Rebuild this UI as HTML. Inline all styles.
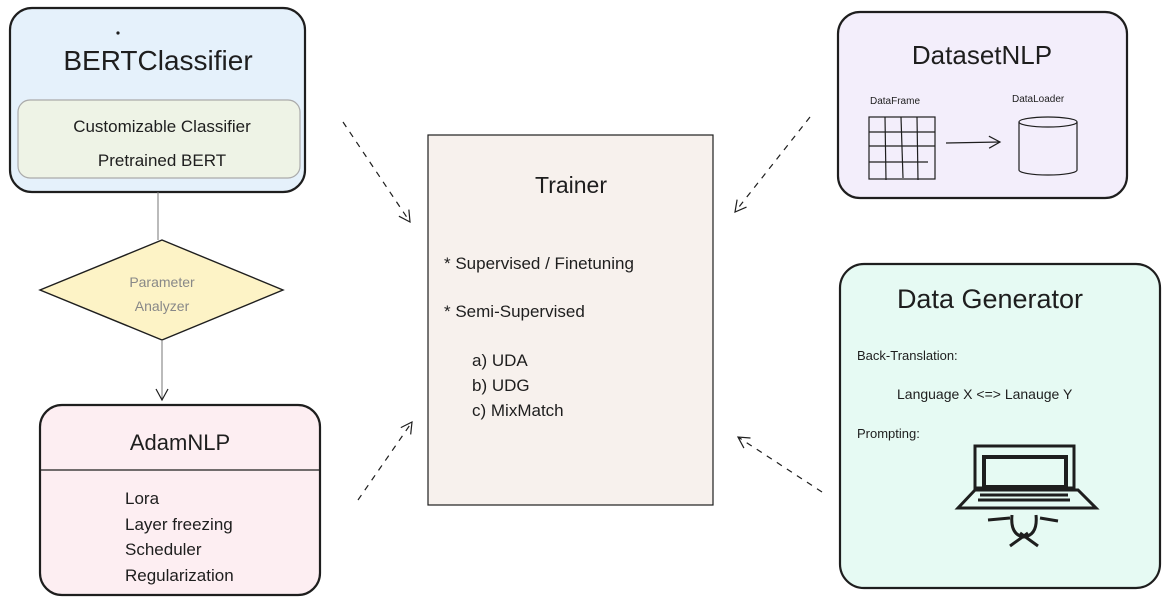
<!DOCTYPE html>
<html><head><meta charset="utf-8"><style>
html,body{margin:0;padding:0;background:#fff;}
svg{display:block;}
text{font-family:"Liberation Sans",sans-serif;fill:#1e1e1e;}
</style></head><body>
<svg width="1169" height="606" viewBox="0 0 1169 606" xmlns="http://www.w3.org/2000/svg">
<defs>
<marker id="ah" markerWidth="14" markerHeight="14" refX="12" refY="7" orient="auto" markerUnits="userSpaceOnUse">
<path d="M1,1 L12,7 L1,13" fill="none" stroke="#1e1e1e" stroke-width="1.2"/>
</marker>
</defs>
<g stroke="#1e1e1e" stroke-width="2.2">
<!-- BERTClassifier -->
<rect x="10" y="8" width="295" height="184" rx="22" fill="#e5f1fb"/>
<rect x="18" y="100" width="282" height="78" rx="12" fill="#eef3e6" stroke="#aaa" stroke-width="1.2"/>
<!-- diamond -->
<line x1="158" y1="192" x2="158" y2="240" stroke-width="1" stroke="#777"/>
<path d="M162,240 L283,290 L162,340 L40,290 Z" fill="#fdf3c6" stroke-width="1.4"/>
<line x1="162" y1="340" x2="162" y2="400" stroke-width="1" stroke="#777" marker-end="url(#ah)"/>
<!-- AdamNLP -->
<rect x="40" y="405" width="280" height="190" rx="22" fill="#fdeef2"/>
<line x1="40" y1="470" x2="320" y2="470" stroke-width="1.2"/>
<!-- Trainer -->
<rect x="428" y="135" width="285" height="370" fill="#f7f1ed" stroke-width="1.2"/>
<!-- DatasetNLP -->
<rect x="838" y="12" width="289" height="186" rx="22" fill="#f3eefb"/>
<!-- Data Generator -->
<rect x="840" y="264" width="320" height="324" rx="24" fill="#e6faf3"/>
</g>
<g stroke="#1e1e1e" stroke-width="1.2" fill="none">
<!-- grid -->
<rect x="869" y="117" width="66" height="62"/>
<line x1="869" y1="132" x2="935" y2="132"/><line x1="869" y1="146" x2="935" y2="146"/><line x1="869" y1="162" x2="928" y2="162"/>
<line x1="885" y1="117" x2="886" y2="180"/><line x1="901" y1="117" x2="903" y2="178"/><line x1="917" y1="117" x2="918" y2="180"/>
<!-- arrow -->
<line x1="946" y1="143" x2="1000" y2="142" marker-end="url(#ah)"/>
<!-- cylinder -->
<ellipse cx="1048" cy="122" rx="29" ry="5"/>
<path d="M1019,122 L1019,170 A29,5 0 0 0 1077,170 L1077,122"/>
<!-- dashed arrows -->
<g stroke-dasharray="6,6">
<line x1="343" y1="122" x2="410" y2="222" marker-end="url(#ah)"/>
<line x1="810" y1="117" x2="735" y2="212" marker-end="url(#ah)"/>
<line x1="358" y1="500" x2="412" y2="422" marker-end="url(#ah)"/>
<line x1="822" y1="492" x2="738" y2="437" marker-end="url(#ah)"/>
</g>
<!-- laptop -->
<g stroke-width="3">
<rect x="975" y="446" width="99" height="42"/>
<rect x="984" y="457" width="82" height="30" stroke-width="4"/>
<path d="M975,490 L958,508 L1096,508 L1078,490 Z"/>
<line x1="980" y1="495" x2="1068" y2="495"/><line x1="978" y1="500" x2="1070" y2="500"/>
<path d="M988,520 L1010,518 M1040,518 L1058,521 M1012,515 Q1010,535 1024,537 Q1038,535 1036,515 M1010,546 L1028,533 M1038,546 L1020,533"/>
</g>
</g>
<!-- text -->
<circle cx="118" cy="33" r="1.6" fill="#1e1e1e"/>
<text x="158" y="70" font-size="28" text-anchor="middle">BERTClassifier</text>
<text x="162" y="132" font-size="17" text-anchor="middle">Customizable Classifier</text>
<text x="162" y="166" font-size="17" text-anchor="middle">Pretrained BERT</text>
<text x="162" y="287" font-size="14" text-anchor="middle" style="fill:#888">Parameter</text>
<text x="162" y="311" font-size="14" text-anchor="middle" style="fill:#888">Analyzer</text>
<text x="180" y="450" font-size="22" text-anchor="middle">AdamNLP</text>
<text x="125" y="504" font-size="17">Lora</text>
<text x="125" y="530" font-size="17">Layer freezing</text>
<text x="125" y="555" font-size="17">Scheduler</text>
<text x="125" y="581" font-size="17">Regularization</text>
<text x="571" y="193" font-size="23" text-anchor="middle">Trainer</text>
<text x="444" y="269" font-size="17">* Supervised / Finetuning</text>
<text x="444" y="317" font-size="17">* Semi-Supervised</text>
<text x="472" y="366" font-size="17">a) UDA</text>
<text x="472" y="391" font-size="17">b) UDG</text>
<text x="472" y="416" font-size="17">c) MixMatch</text>
<text x="982" y="64" font-size="26" text-anchor="middle">DatasetNLP</text>
<text x="870" y="104" font-size="10">DataFrame</text>
<text x="1012" y="102" font-size="10">DataLoader</text>
<text x="990" y="308" font-size="27" text-anchor="middle">Data Generator</text>
<text x="857" y="360" font-size="13">Back-Translation:</text>
<text x="897" y="399" font-size="14">Language X &lt;=&gt; Lanauge Y</text>
<text x="857" y="438" font-size="13">Prompting:</text>
</svg>
</body></html>
